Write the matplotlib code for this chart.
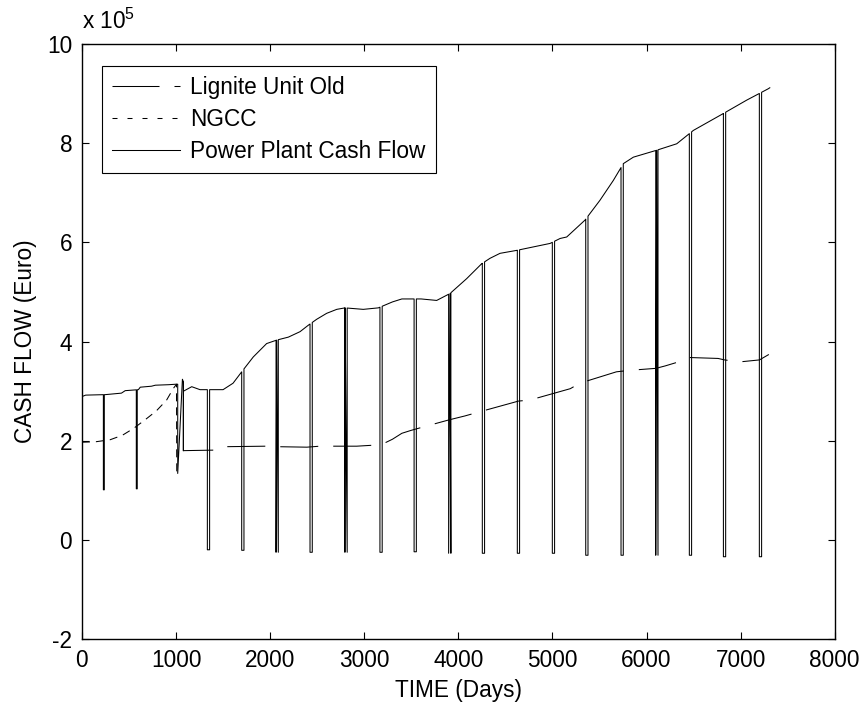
import matplotlib
matplotlib.use("Agg")
import matplotlib.pyplot as plt
from matplotlib.lines import Line2D
import numpy as np

# values in units of 1e5 Euro, time in days

# Lignite Unit Old (drawn solid in the plot)
lignite_days = [0, 40, 250, 420, 460, 600, 620, 740, 780, 920, 1000, 1018, 1018, 1068, 1078, 1078]
lignite_vals = [2.89, 2.92, 2.93, 2.96, 3.01, 3.03, 3.08, 3.10, 3.12, 3.13, 3.14, 3.14, 1.34, 3.24, 3.19, 1.80]
lignite_dip_days = [228, 578]
lignite_dip_low = [1.01, 1.03]

# NGCC, first years (short dashes)
ngcc_days = [0, 150, 300, 430, 550, 670, 790, 900, 970, 1005, 1008]
ngcc_vals = [1.97, 1.98, 2.02, 2.11, 2.25, 2.42, 2.60, 2.82, 3.05, 3.14, 1.30]

# NGCC, after the lignite unit is retired
ngcc_late_days = [1078, 1078, 1390, 1540, 1960, 2070, 2390, 2530, 2920, 3100, 3170, 3300,
                  3400, 3500, 3650, 3900, 4070, 4220, 4640, 4760, 5190, 5290, 5680, 5820,
                  6100, 6200, 6340, 6430, 6760, 6830, 6990, 7200, 7300]
ngcc_late_vals = [3.19, 1.80, 1.81, 1.88, 1.89, 1.88, 1.87, 1.89, 1.89, 1.91, 1.91, 2.03,
                  2.15, 2.21, 2.29, 2.42, 2.50, 2.58, 2.80, 2.82, 3.05, 3.16, 3.39, 3.42,
                  3.46, 3.51, 3.59, 3.68, 3.66, 3.63, 3.59, 3.63, 3.74]

# Power Plant Cash Flow
pp_days = [1080, 1167, 1255, 1500, 1606, 1698, 1821, 1963, 2070, 2194, 2318, 2406, 2495,
           2601, 2708, 2796, 2990, 3150, 3300, 3400, 3605, 3770, 3912, 4089, 4248, 4337,
           4443, 4621, 4975, 5082, 5152, 5346, 5505, 5647, 5754, 5860, 6108, 6321, 6498,
           6816, 7064, 7294, 7310]
pp_vals = [3.00, 3.09, 3.03, 3.03, 3.16, 3.39, 3.69, 3.96, 4.03, 4.09, 4.20, 4.33, 4.45,
           4.57, 4.65, 4.68, 4.65, 4.68, 4.80, 4.86, 4.86, 4.83, 4.97, 5.27, 5.57, 5.68,
           5.78, 5.84, 5.98, 6.08, 6.11, 6.45, 6.85, 7.25, 7.59, 7.72, 7.86, 7.99, 8.26,
           8.60, 8.87, 9.10, 9.12]
pp_dip_days = [1333, 1698, 2063, 2424, 2795, 3167, 3530, 3897, 4255, 4627, 4999, 5354,
               5729, 6098, 6455, 6817, 7199]
pp_dip_low = [-0.20, -0.21, -0.25, -0.25, -0.25, -0.25, -0.24, -0.27, -0.27, -0.27, -0.27,
              -0.31, -0.31, -0.31, -0.31, -0.34, -0.34]


def with_dips(days, vals, dip_days, dip_low, width):
    pts = list(zip(days, vals))
    for d, lo in zip(dip_days, dip_low):
        pts += [(d, np.interp(d, days, vals)), (d, lo), (d + width, lo),
                (d + width, np.interp(d + width, days, vals))]
    pts.sort(key=lambda p: p[0])
    return [p[0] for p in pts], [p[1] for p in pts]


plt.rcParams["font.family"] = ["Liberation Sans", "DejaVu Sans"]
plt.rcParams["font.size"] = 16.3
plt.rcParams["lines.scale_dashes"] = False
plt.rcParams["axes.unicode_minus"] = False

fig = plt.figure(figsize=(8.65, 7.04), dpi=100)
ax = fig.add_axes([0.0947, 0.0923, 0.8703, 0.845])

px = 0.72  # points per pixel at 100 dpi
lw = 0.75

lx, ly = with_dips(lignite_days, lignite_vals, lignite_dip_days, lignite_dip_low, 10)
ax.plot(lx, ly, color="black", lw=lw)

ax.plot(ngcc_days, ngcc_vals, color="black", lw=lw, linestyle=(0, (8 * px, 6 * px)))

ax.plot(ngcc_late_days[:3], ngcc_late_vals[:3], color="black", lw=lw)
ax.plot(ngcc_late_days[2:], ngcc_late_vals[2:], color="black", lw=lw,
        linestyle=(38 * px, (38 * px, 15 * px)))

px_, py_ = with_dips(pp_days, pp_vals, pp_dip_days, pp_dip_low, 24)
ax.plot(px_, py_, color="black", lw=lw, snap=False)

ax.set_xlim(0, 8000)
ax.set_ylim(-2, 10)
ax.set_xticks(np.arange(0, 8001, 1000))
ax.set_yticks(np.arange(-2, 11, 2))
ax.tick_params(direction="in", top=True, right=True, length=5, width=0.8)
ax.tick_params(axis="y", pad=7)
ax.tick_params(axis="x", pad=7)
for sp in ax.spines.values():
    sp.set_linewidth(1.0)

ax.set_xlabel("TIME (Days)", labelpad=5)
ax.set_ylabel("CASH FLOW (Euro)", labelpad=7)
ax.text(0, 1.018, r"x 10$^{\mathregular{5}}$", transform=ax.transAxes,
        ha="left", va="bottom")

handles = [
    Line2D([], [], color="black", lw=lw, linestyle=(0, (47 * px, 15 * px, 6 * px, 15 * px))),
    Line2D([], [], color="black", lw=lw, linestyle=(0, (5 * px, 10 * px))),
    Line2D([], [], color="black", lw=lw),
]
leg = ax.legend(handles, ["Lignite Unit Old", "NGCC", "Power Plant Cash Flow"],
                loc="upper left", bbox_to_anchor=(0.0263, 0.9635), borderaxespad=0,
                fancybox=False, framealpha=1, edgecolor="black", handlelength=3.0,
                handletextpad=0.45, borderpad=0.45, labelspacing=0.39)
leg.get_frame().set_linewidth(0.8)

fig.savefig("out.png", dpi=100)
